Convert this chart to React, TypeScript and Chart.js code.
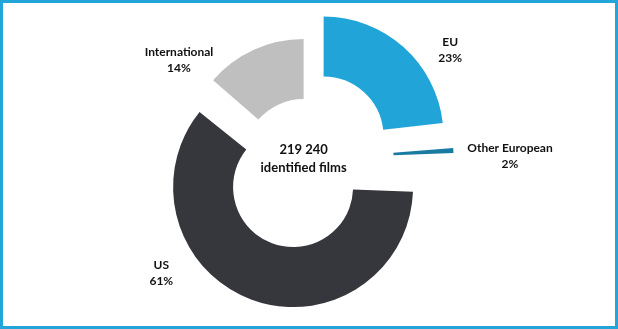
import React, { useEffect, useRef } from "react";
import { Chart, registerables } from "chart.js";

Chart.register(...registerables);

// ---- data ----
const categories = ["EU", "Other European", "US", "International"];
const shares = [23.2, 1.8, 61.4, 13.6];
const shareLabels = ["23%", "2%", "61%", "14%"];
const totalFilms = "219 240";
const centerCaption = "identified films";

// ---- styles / layout ----
const colors = ["#21A5D8", "#1B7AA0", "#36373C", "#BFBFBF"];
// Chart.js moves an arc by offset / 4 pixels
const explode = [120, 120, 120, 0];
const labelOffsets: [number, number][] = [
  [146.6, -109],
  [206.4, -3],
  [-142.3, 114.6],
  [-124.6, -98.8],
];
const FONT = "Lato, 'Open Sans', sans-serif";

// Chart.js also enlarges an offset arc's radii by offset/4 * (1 - sin(min(PI, circumference)));
// undo that so exploded slices keep the same ring radii as the rest (like Excel).
const keepRadiusPlugin = {
  id: "keepRadius",
  afterDatasetsUpdate(chart: any) {
    const meta = chart.getDatasetMeta(0);
    meta.data.forEach((arc: any, i: number) => {
      const off = (explode[i] || 0) / 4;
      const fix = 1 - Math.sin(Math.min(Math.PI, arc.circumference || 0));
      const comp = off * fix;
      arc.outerRadius -= comp;
      arc.innerRadius -= comp;
    });
  },
};

const labelPlugin = {
  id: "labelPlugin",
  beforeDraw(chart: any) {
    const ctx = chart.ctx;
    ctx.save();
    ctx.fillStyle = "#ffffff";
    ctx.fillRect(0, 0, chart.width, chart.height);
    ctx.restore();
  },
  afterDraw(chart: any) {
    const ctx = chart.ctx;
    const meta = chart.getDatasetMeta(0);
    const cx = meta.data[0].x;
    const cy = meta.data[0].y;
    ctx.save();
    // frame
    ctx.strokeStyle = "#22A6DA";
    ctx.lineWidth = 3;
    ctx.strokeRect(1.5, 1.5, chart.width - 3, chart.height - 3);

    ctx.fillStyle = "#111111";
    ctx.textAlign = "center";
    ctx.textBaseline = "middle";
    ctx.font = `bold 12px ${FONT}`;
    categories.forEach((c, i) => {
      const [dx, dy] = labelOffsets[i];
      ctx.fillText(c, cx + dx, cy + dy - 8);
      ctx.fillText(shareLabels[i], cx + dx, cy + dy + 8);
    });
    ctx.font = `bold 13px ${FONT}`;
    ctx.fillText(totalFilms, cx, cy - 9);
    ctx.fillText(centerCaption, cx, cy + 9);
    ctx.restore();
  },
};

export default function App() {
  const ref = useRef<HTMLCanvasElement>(null);
  useEffect(() => {
    document.body.style.margin = "0";
    const chart = new Chart(ref.current!, {
      type: "doughnut",
      data: {
        labels: categories,
        datasets: [
          {
            data: shares,
            backgroundColor: colors,
            borderWidth: 0,
            offset: explode,
          } as any,
        ],
      },
      options: {
        responsive: false,
        animation: false,
        radius: 120,
        cutout: "50%",
        layout: { padding: { left: 0, top: 0, right: 10.8, bottom: 11 } },
        plugins: {
          legend: { display: false },
          tooltip: { enabled: false },
        },
      } as any,
      plugins: [keepRadiusPlugin, labelPlugin],
    });
    return () => chart.destroy();
  }, []);
  return (
    <canvas
      ref={ref}
      width={618}
      height={329}
      style={{ display: "block", width: 618, height: 329 }}
    />
  );
}
